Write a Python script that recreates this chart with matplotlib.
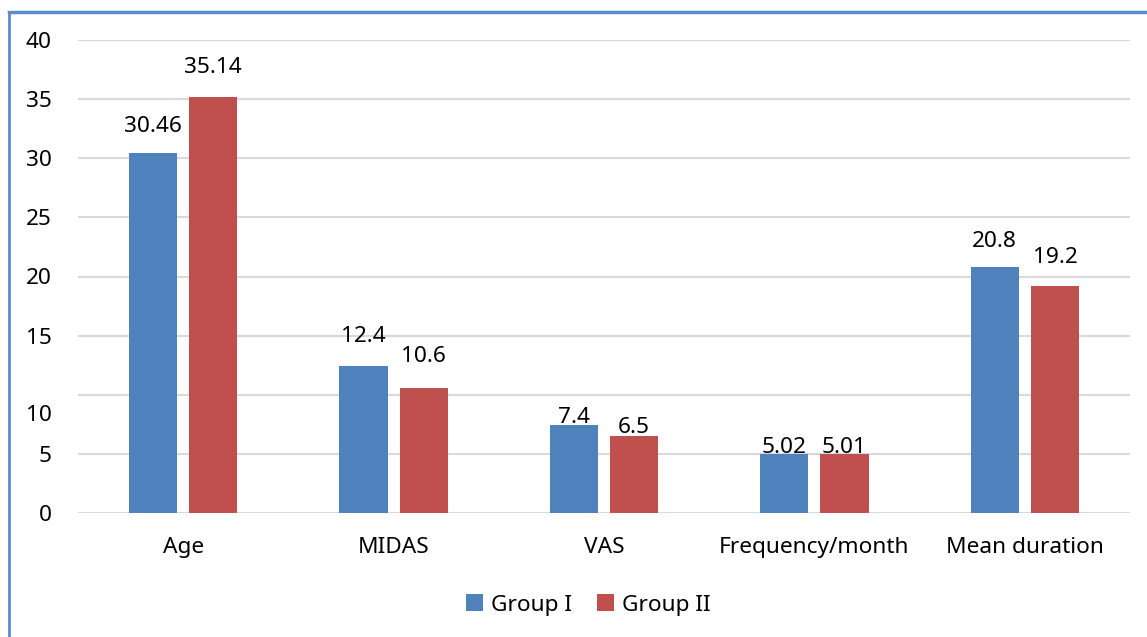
import matplotlib
matplotlib.use("Agg")
import matplotlib.pyplot as plt
import matplotlib.transforms as mtrans
from matplotlib.lines import Line2D
import numpy as np

categories = ["Age", "MIDAS", "VAS", "Frequency/month", "Mean duration"]
group1 = [30.46, 12.4, 7.4, 5.02, 20.8]
group2 = [35.14, 10.6, 6.5, 5.01, 19.2]
series_names = ["Group I", "Group II"]
y_ticks = [0, 5, 10, 15, 20, 25, 30, 35, 40]

# label lift above each bar top, in pixels
lift1 = [26, 30, 8, 6, 26]
lift2 = [30, 31, 9, 6, 28]

blue = "#4F81BD"
red = "#C0504D"
font = "Noto Sans"
fs = 16.3

W, H = 1147, 637
fig = plt.figure(figsize=(W / 100, H / 100), dpi=100)
ax = fig.add_axes([78 / W, 1 - 513 / H, (1130 - 78) / W, (513 - 40) / H])

x = np.arange(len(categories))
bw = 0.229
gap = 0.057
off = (bw + gap) / 2
b1 = ax.bar(x - off, group1, bw, color=blue, label=series_names[0], zorder=3)
b2 = ax.bar(x + off, group2, bw, color=red, label=series_names[1], zorder=3)

for bars, vals, lifts in ((b1, group1, lift1), (b2, group2, lift2)):
    for r, v, d in zip(bars, vals, lifts):
        ax.annotate(f"{v:g}", (r.get_x() + r.get_width() / 2, v),
                    xytext=(0, d * 0.72), textcoords="offset points",
                    ha="center", va="center", fontsize=fs, family=font,
                    color="#000000", zorder=4)

ax.set_xlim(-0.5, len(categories) - 0.5)
ax.set_ylim(0, 40)
ax.set_yticks(y_ticks)
ax.set_yticklabels([str(t) for t in y_ticks])
ax.yaxis.grid(True, color="#D9D9D9", linewidth=1.5, zorder=0)
ax.set_axisbelow(True)
for s in ax.spines.values():
    s.set_visible(False)
ax.tick_params(axis="both", length=0, labelsize=fs)
ax.tick_params(axis="y", pad=19)
ax.tick_params(axis="x", pad=17)
ax.set_xticks(x)
ax.set_xticklabels(categories)
for lbl in ax.get_xticklabels() + ax.get_yticklabels():
    lbl.set_family(font)

# the "10" label sits a little below its gridline
for lbl, t in zip(ax.get_yticklabels(), y_ticks):
    if t == 10:
        lbl.set_transform(lbl.get_transform() +
                          mtrans.ScaledTranslation(0, -18 / 100, fig.dpi_scale_trans))

fig.legend(handles=[b1, b2], loc="center", bbox_to_anchor=(588 / W, 1 - 605 / H),
           ncol=2, frameon=False, handlelength=0.75, handleheight=0.75,
           columnspacing=1.1, handletextpad=0.35, prop={"family": font, "size": fs})

# outer frame
fig.add_artist(Line2D([9 / W, 9 / W], [0, 1 - 12 / H], color="#5B8BCB", linewidth=2,
                      transform=fig.transFigure))
fig.add_artist(Line2D([9 / W, 1], [1 - 12 / H, 1 - 12 / H], color="#5B8BCB", linewidth=2.5,
                      transform=fig.transFigure))

fig.savefig("out.png", dpi=100)
